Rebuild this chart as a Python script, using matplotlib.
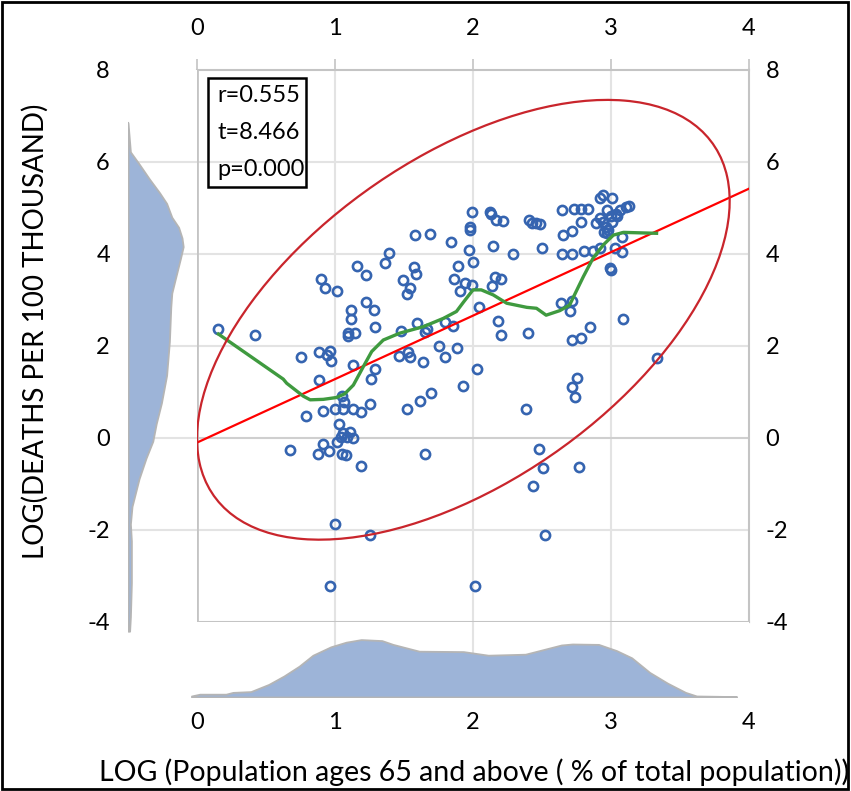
import numpy as np
import matplotlib.pyplot as plt
from matplotlib.patches import Rectangle, Ellipse

plt.rcParams['font.family'] = ['Lato', 'DejaVu Sans']
plt.rcParams['axes.unicode_minus'] = False

# scatter: log(pop 65+ %) vs log(deaths per 100k)
pop65_log = [0.155, 0.42, 0.896, 0.925, 1.012, 1.157, 1.225, 1.36, 1.389, 1.582,
             1.688, 1.843, 1.572, 1.59, 1.496, 1.543, 1.524, 1.89, 1.862, 1.944,
             1.906, 1.99, 1.98, 1.98, 1.97, 2.0, 1.118, 1.114, 1.225, 1.283,
             1.292, 1.094, 1.094, 1.147, 1.476, 1.592, 1.664, 1.655, 1.795, 1.858,
             1.756, 1.795, 1.882, 1.466, 1.529, 1.543, 1.64, 0.751, 0.886, 0.964,
             0.944, 0.973, 1.128, 1.292, 0.886, 1.263, 1.048, 1.065, 1.254, 1.93,
             0.79, 0.915, 1.0, 1.06, 1.128, 1.186, 1.031, 1.06, 1.109, 1.085,
             1.133, 1.047, 1.012, 0.915, 0.674, 0.875, 0.957, 1.048, 1.08, 1.186,
             1.65, 1.522, 1.616, 1.698, 1.002, 1.254, 0.964, 2.12, 2.13, 2.167,
             2.22, 2.147, 2.287, 2.408, 2.43, 2.46, 2.486, 2.5, 2.643, 2.732,
             2.78, 2.836, 2.78, 2.655, 2.715, 2.643, 2.715, 2.804, 2.867, 2.92,
             2.945, 3.005, 2.969, 3.036, 3.065, 3.107, 3.133, 2.92, 2.89, 2.945,
             3.005, 2.964, 2.98, 2.95, 2.97, 3.077, 3.03, 3.08, 2.99, 3.0,
             2.16, 2.2, 2.135, 1.99, 2.04, 2.18, 2.2, 2.4, 2.635, 2.715,
             2.703, 2.85, 2.78, 2.715, 3.09, 3.33, 2.027, 2.757, 2.715, 2.74,
             2.384, 2.478, 2.51, 2.77, 2.432, 2.52, 2.017, 3.0, 3.04, 2.92]
deaths_log = [2.38, 2.24, 3.46, 3.25, 3.2, 3.74, 3.54, 3.81, 4.03, 4.41,
              4.43, 4.27, 3.71, 3.57, 3.43, 3.25, 3.13, 3.74, 3.46, 3.36,
              3.2, 4.92, 4.59, 4.52, 4.09, 3.83, 2.79, 2.59, 2.96, 2.78,
              2.41, 2.29, 2.22, 2.29, 2.33, 2.51, 2.36, 2.31, 2.52, 2.43,
              2.01, 1.77, 1.95, 1.78, 1.88, 1.77, 1.66, 1.75, 1.88, 1.9,
              1.8, 1.67, 1.58, 1.51, 1.25, 1.28, 0.91, 0.79, 0.73, 1.14,
              0.48, 0.59, 0.64, 0.64, 0.64, 0.57, 0.3, 0.1, 0.14, 0.03,
              -0.01, 0.03, -0.08, -0.13, -0.26, -0.35, -0.29, -0.35, -0.38, -0.61,
              -0.35, 0.64, 0.81, 0.98, -1.88, -2.11, -3.22, 4.92, 4.88, 4.74,
              4.72, 4.18, 4.0, 4.74, 4.68, 4.67, 4.65, 4.12, 4.96, 4.98,
              4.98, 4.98, 4.7, 4.41, 4.5, 4.0, 4.0, 4.07, 4.07, 5.21,
              5.28, 5.21, 4.96, 4.88, 4.96, 5.03, 5.05, 4.78, 4.68, 4.7,
              4.7, 4.59, 4.52, 4.48, 4.45, 4.38, 4.12, 4.05, 3.69, 3.65,
              3.51, 3.45, 3.3, 3.33, 2.85, 2.55, 2.24, 2.29, 2.93, 2.98,
              2.75, 2.42, 2.18, 2.12, 2.58, 1.73, 1.5, 1.31, 1.1, 0.9,
              0.64, -0.23, -0.66, -0.64, -1.04, -2.11, -3.22, 4.82, 4.83, 4.12]

# linear fit
fit_x = [0, 4]
fit_y = [-0.1, 5.42]

# smoothed trend
smooth_x = [0.155, 0.625, 0.65, 0.77, 0.82, 0.915, 1.01, 1.07, 1.133, 1.18,
            1.205, 1.266, 1.35, 1.47, 1.64, 1.785, 1.88, 1.93, 2.0, 2.06,
            2.147, 2.244, 2.39, 2.46, 2.53, 2.63, 2.7, 2.74, 2.8, 2.87,
            2.945, 3.017, 3.09, 3.21, 3.33]
smooth_y = [2.26, 1.28, 1.19, 0.91, 0.83, 0.84, 0.88, 0.96, 1.15, 1.41,
            1.55, 1.88, 2.13, 2.28, 2.42, 2.6, 2.75, 2.95, 3.22, 3.22,
            3.11, 2.93, 2.84, 2.82, 2.67, 2.77, 2.89, 3.14, 3.51, 3.91,
            4.2, 4.41, 4.47, 4.46, 4.45]

# confidence ellipse
ell_center = (1.93, 2.57)
ell_sx, ell_sy, ell_rho = 1.93, 4.78, 0.54

# marginal densities
dens_y_pos = [6.85, 6.22, 5.96, 5.63, 5.33, 5.1, 4.8, 4.58, 4.35, 4.16, 3.9, 3.45,
              3.15, 2.85, 2.1, 1.36, 0.76, 0.31, -0.07, -0.44, -0.89, -1.49,
              -1.87, -2.24, -3.14, -3.89, -4.2]
dens_y_val = [0.0, 0.012, 0.055, 0.107, 0.158, 0.193, 0.219, 0.253, 0.27, 0.276,
              0.262, 0.236, 0.219, 0.214, 0.207, 0.193, 0.167, 0.141, 0.124,
              0.09, 0.055, 0.02, 0.012, 0.017, 0.017, 0.012, 0.008]
dens_x_pos = [-0.04, 0.02, 0.21, 0.26, 0.39, 0.52, 0.63, 0.74, 0.84, 0.97, 1.08,
              1.19, 1.34, 1.42, 1.61, 1.93, 2.11, 2.38, 2.64, 2.72, 2.91, 3.04,
              3.15, 3.28, 3.41, 3.54, 3.62, 3.91]
dens_x_val = [0.005, 0.014, 0.014, 0.023, 0.027, 0.063, 0.105, 0.154, 0.209, 0.251,
              0.274, 0.287, 0.282, 0.263, 0.229, 0.227, 0.209, 0.214, 0.26, 0.265,
              0.263, 0.232, 0.196, 0.123, 0.069, 0.023, 0.005, 0.002]

stats_lines = ['r=0.555', 't=8.466', 'p=0.000']
ticks_x = [0, 1, 2, 3, 4]
ticks_y = [-4, -2, 0, 2, 4, 6, 8]

W, H = 851, 791
fig = plt.figure(figsize=(W / 100, H / 100), dpi=100)


def box(x0, y0, x1, y1):
    return [x0 / W, 1 - y1 / H, (x1 - x0) / W, (y1 - y0) / H]


grid_c = '#E3E3E3'
frame_c = '#C4C4C4'
fill_c = '#9DB4D8'

# main scatter
ax = fig.add_axes(box(197, 70, 749, 622))
ax.set_xlim(0, 4)
ax.set_ylim(-4, 8)
for x in [1, 2, 3]:
    ax.axvline(x, color=grid_c, lw=1.5, zorder=0)
for y in [-2, 2, 4, 6]:
    ax.axhline(y, color=grid_c, lw=1.5, zorder=0)
ax.axhline(0, color='#CFCFCF', lw=1.5, zorder=0)
for s in ax.spines.values():
    s.set_color(frame_c)
    s.set_linewidth(1.5)
ax.spines['left'].set_linewidth(2)

ax.plot(pop65_log, deaths_log, 'o', mfc='none', mec='#3564B0', ms=6.6, mew=1.9, zorder=3)
ax.plot(fit_x, fit_y, color='#FF0000', lw=1.6, zorder=4)
ax.plot(smooth_x, smooth_y, color='#3F9A3F', lw=2.4, zorder=4)

cov = np.array([[ell_sx ** 2, ell_rho * ell_sx * ell_sy],
                [ell_rho * ell_sx * ell_sy, ell_sy ** 2]])
vals, vecs = np.linalg.eigh(cov)
ang = np.degrees(np.arctan2(vecs[1, 1], vecs[0, 1]))
ax.add_patch(Ellipse(ell_center, 2 * np.sqrt(vals[1]), 2 * np.sqrt(vals[0]), angle=ang,
                     fill=False, ec='#C9252C', lw=1.6, zorder=4))

ax.xaxis.tick_top()
ax.set_xticks(ticks_x)
ax.tick_params(axis='x', top=True, bottom=False, length=8, width=1.2, color=frame_c,
               pad=14, labelsize=17, direction='out')
ax.yaxis.tick_right()
ax.set_yticks(ticks_y)
ax.tick_params(axis='y', right=True, left=False, length=0, pad=12, labelsize=17)

# stats box
ax.add_patch(Rectangle((11 / 552, 435 / 552), 98 / 552, 109 / 552, transform=ax.transAxes,
                       fill=False, ec='black', lw=1.8, zorder=6))
for i, line in enumerate(stats_lines):
    ax.text(20 / 552, (526 - 37 * i) / 552, line, transform=ax.transAxes,
            ha='left', va='center', fontsize=17, zorder=6)

# left density
axl = fig.add_axes(box(128, 70, 197, 636))
axl.set_ylim(8 - 566 / 46, 8)
axl.set_xlim(0, 69 / 200)
axl.hlines([-2, 0, 2, 4, 6], 0, 69 / 200, color=grid_c, lw=1.5, zorder=0)
axl.fill_betweenx(dens_y_pos, 0, dens_y_val, facecolor=fill_c, edgecolor='#B5B5B5',
                  lw=1.3, zorder=2)
axl.plot([0, 0], [dens_y_pos[-1], dens_y_pos[0]], color='#B5B5B5', lw=1.5, zorder=3)
for s in axl.spines.values():
    s.set_visible(False)
axl.set_xticks([])
axl.set_yticks(ticks_y)
axl.tick_params(axis='y', length=0, pad=13, labelsize=17)

# bottom density
axb = fig.add_axes(box(190, 622, 749, 697))
axb.set_xlim(-7 / 138, 4)
axb.set_ylim(0, 75 / 200)
axb.vlines([1, 2, 3], 0, 75 / 200, color=grid_c, lw=1.5, zorder=0)
axb.fill_between(dens_x_pos, 0, dens_x_val, facecolor=fill_c, edgecolor='#B5B5B5',
                 lw=1.3, zorder=2)
for s in axb.spines.values():
    s.set_visible(False)
axb.set_yticks([])
axb.set_xticks(ticks_x)
axb.tick_params(axis='x', length=0, pad=11, labelsize=17)

fig.text(474 / W, 1 - 772 / H, 'LOG (Population ages 65 and above ( % of total population))',
         ha='center', va='center', fontsize=20.5)
fig.text(35 / W, 1 - 331 / H, 'LOG(DEATHS PER 100 THOUSAND)', rotation=90,
         ha='center', va='center', fontsize=20)

fig.add_artist(Rectangle((2 / W, 2 / H), 846 / W, 787 / H, transform=fig.transFigure,
                         fill=False, ec='black', lw=2))

fig.savefig('out.png', dpi=100)
